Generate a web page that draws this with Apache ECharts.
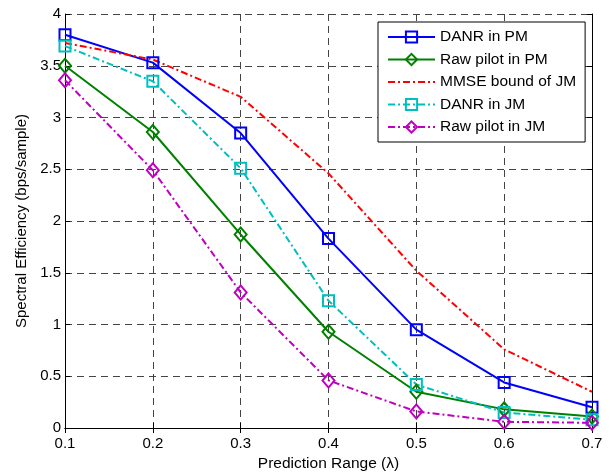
<!DOCTYPE html>
<html>
<head>
<meta charset="utf-8">
<script src="https://cdn.jsdelivr.net/npm/echarts@6/dist/echarts.min.js"></script>
<style>html,body{margin:0;padding:0;background:#fff}#c{width:610px;height:472px}</style>
</head>
<body>
<div id="c"></div>
<script>
const categories = ['0.1','0.2','0.3','0.4','0.5','0.6','0.7'];
const danrPM = [3.80, 3.53, 2.85, 1.83, 0.95, 0.44, 0.20];
const rawPM  = [3.50, 2.86, 1.87, 0.93, 0.35, 0.18, 0.11];
const mmseJM = [3.72, 3.56, 3.20, 2.46, 1.52, 0.76, 0.35];
const danrJM = [3.69, 3.35, 2.51, 1.23, 0.42, 0.15, 0.08];
const rawJM  = [3.36, 2.49, 1.31, 0.46, 0.16, 0.06, 0.05];
const seriesNames = ['DANR in PM','Raw pilot in PM','MMSE bound of JM','DANR in JM','Raw pilot in JM'];
const yTicks = {min: 0, max: 4, interval: 0.5};

const FONT = "'Liberation Sans', Arial, sans-serif";
const dashDot = [7, 3, 2, 3];

function mk(name, data, color, symbol, size, dashed, noMarker) {
  return {
    name: name, type: 'line', data: data,
    symbol: symbol, symbolSize: size,
    showSymbol: !noMarker,
    lineStyle: {color: color, width: 2, type: dashed ? dashDot : 'solid'},
    itemStyle: noMarker
      ? {color: 'rgba(0,0,0,0)', borderColor: 'rgba(0,0,0,0)', borderWidth: 0}
      : {color: 'rgba(255,255,255,0)', borderColor: color, borderWidth: 2},
    color: color,
    animation: false
  };
}

const chart = echarts.init(document.getElementById('c'), null, {renderer: 'canvas'});
chart.setOption({
  backgroundColor: '#fff',
  animation: false,
  textStyle: {fontFamily: FONT},
  grid: {left: 65, right: 18, top: 14, bottom: 44, containLabel: false, outerBoundsMode: 'none'},
  legend: {
    orient: 'vertical',
    left: 378, top: 22,
    padding: [7, 9, 7, 9],
    itemWidth: 47, itemHeight: 14, itemGap: 6.5,
    backgroundColor: '#fff',
    borderColor: '#000', borderWidth: 1,
    textStyle: {fontFamily: FONT, fontSize: 15.5, lineHeight: 14, color: '#000'},
    data: seriesNames
  },
  xAxis: [{
    type: 'category', data: categories, boundaryGap: false,
    name: 'Prediction Range (λ)', nameLocation: 'middle', nameGap: 27,
    nameTextStyle: {fontFamily: FONT, fontSize: 15.5, color: '#000'},
    axisLine: {lineStyle: {color: '#000', width: 1}},
    axisTick: {inside: true, length: 5, lineStyle: {color: '#000'}},
    axisLabel: {fontFamily: FONT, fontSize: 15, color: '#000', margin: 8},
    splitLine: {show: true, lineStyle: {color: '#444', width: 1, type: [7, 5]}}
  }, {
    type: 'category', data: categories, boundaryGap: false, position: 'top',
    axisLine: {lineStyle: {color: '#000', width: 1}},
    axisTick: {inside: true, length: 5, lineStyle: {color: '#000'}},
    axisLabel: {show: false}, splitLine: {show: false}
  }],
  yAxis: [{
    type: 'value', min: yTicks.min, max: yTicks.max, interval: yTicks.interval,
    name: 'Spectral Efficiency (bps/sample)', nameLocation: 'middle', nameGap: 36,
    nameTextStyle: {fontFamily: FONT, fontSize: 15, color: '#000'},
    axisLine: {show: true, lineStyle: {color: '#000', width: 1}},
    axisTick: {show: true, inside: true, length: 5, lineStyle: {color: '#000'}},
    axisLabel: {fontFamily: FONT, fontSize: 15, color: '#000', margin: 4},
    splitLine: {show: true, lineStyle: {color: '#444', width: 1, type: [7, 5]}}
  }, {
    type: 'value', min: yTicks.min, max: yTicks.max, interval: yTicks.interval, position: 'right',
    axisLine: {show: true, lineStyle: {color: '#000', width: 1}},
    axisTick: {show: true, inside: true, length: 5, lineStyle: {color: '#000'}},
    axisLabel: {show: false}, splitLine: {show: false}
  }],
  series: [
    mk(seriesNames[0], danrPM, '#0000ff', 'rect', 11, false, false),
    mk(seriesNames[1], rawPM, '#008000', 'diamond', [12, 14], false, false),
    mk(seriesNames[2], mmseJM, '#ff0000', 'circle', 1, true, true),
    mk(seriesNames[3], danrJM, '#00bfbf', 'rect', 11, true, false),
    mk(seriesNames[4], rawJM, '#bf00bf', 'diamond', [12, 14], true, false)
  ]
});
</script>
</body>
</html>
